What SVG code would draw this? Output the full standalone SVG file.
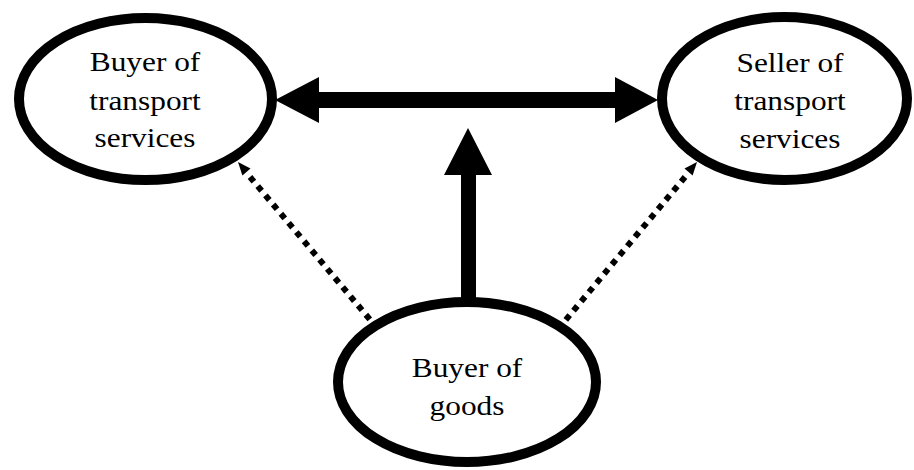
<svg xmlns="http://www.w3.org/2000/svg" width="914" height="470" viewBox="0 0 914 470">
<style>
.node ellipse{fill:#fff;stroke:#000;stroke-width:10}
.lbl{font-family:"Liberation Serif",serif;font-size:28px;fill:#000;text-anchor:middle}
.dot{stroke:#000;stroke-width:6;stroke-dasharray:6 6;fill:none}
</style>
<rect width="914" height="470" fill="#fff"/>
<g id="connectors">
<polygon points="275,100 319,77 319,92 615,92 615,77 658,100 615,123 615,108 319,108 319,123" fill="#000"/>
<polygon points="468,128 492,175 476,175 476,302 461,302 461,175 444,175" fill="#000"/>
<line class="dot" x1="250" y1="177" x2="372" y2="322"/>
<polygon points="238,162 250.5,168.5 242.4,175.4" fill="#000"/>
<line class="dot" x1="685" y1="177" x2="564" y2="322"/>
<polygon points="697,162 692.6,175.4 684.5,168.5" fill="#000"/>
</g>
<g id="buyer-transport" class="node">
<ellipse cx="145.5" cy="99" rx="126.5" ry="81"/>
<g transform="translate(145,0) scale(1.12,1)">
<text class="lbl" x="0" y="71">Buyer of</text>
<text class="lbl" x="0" y="110">transport</text>
<text class="lbl" x="0" y="147">services</text>
</g>
</g>
<g id="seller-transport" class="node">
<ellipse cx="784.5" cy="98.5" rx="122.5" ry="81.5"/>
<g transform="translate(790,0) scale(1.12,1)">
<text class="lbl" x="0" y="72">Seller of</text>
<text class="lbl" x="0" y="110">transport</text>
<text class="lbl" x="0" y="148">services</text>
</g>
</g>
<g id="buyer-goods" class="node">
<ellipse cx="467" cy="382" rx="129" ry="80"/>
<g transform="translate(467,0) scale(1.12,1)">
<text class="lbl" x="0" y="377">Buyer of</text>
<text class="lbl" x="0" y="415">goods</text>
</g>
</g>
</svg>
